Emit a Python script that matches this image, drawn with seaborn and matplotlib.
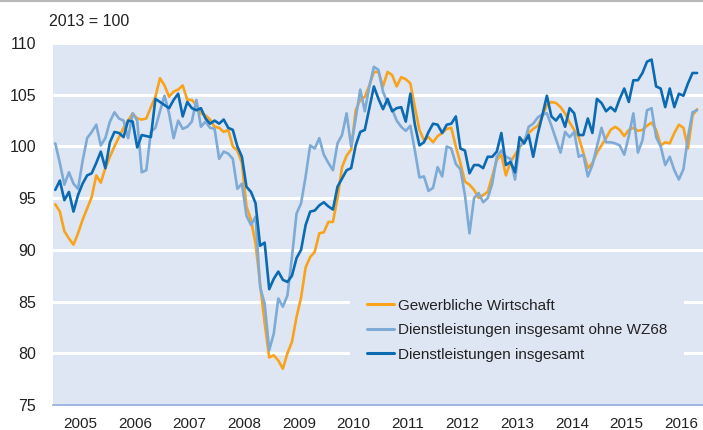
import numpy as np
import pandas as pd
import matplotlib
matplotlib.use('Agg')
import matplotlib.pyplot as plt
import seaborn as sns
from matplotlib.lines import Line2D

# monthly index values, Jan 2005 - Oct 2016 (2013 = 100)
start_year = 2005
gewerbliche = [
    94.4, 93.7, 91.8, 91.1, 90.5, 91.6, 92.9, 94.0, 95.1, 97.2, 96.5, 97.9,
    99.0, 100.0, 100.9, 101.8, 102.5, 103.2, 102.7, 102.6, 102.7, 103.8, 104.8, 106.6,
    105.9, 104.8, 105.3, 105.5, 105.9, 104.5, 104.5, 104.0, 103.2, 103.0, 102.6, 101.9,
    101.8, 101.4, 101.6, 100.0, 99.6, 98.4, 94.2, 92.9, 90.6, 86.7, 82.9, 79.6,
    79.8, 79.3, 78.5, 80.0, 81.1, 83.5, 85.4, 88.3, 89.3, 89.8, 91.6, 91.7,
    92.7, 92.7, 95.0, 98.0, 99.1, 99.7, 103.5, 104.5, 104.8, 105.9, 107.2, 107.2,
    105.8, 107.2, 106.9, 105.8, 106.7, 106.5, 106.1, 103.8, 101.6, 100.6, 100.9, 100.4,
    101.0, 101.3, 101.7, 101.8, 100.0, 98.4, 96.6, 96.3, 95.8, 95.0, 95.3, 95.6,
    97.1, 98.7, 99.2, 97.2, 98.5, 99.2, 99.9, 100.6, 101.3, 101.7, 102.0, 102.9,
    104.0, 104.3, 104.2, 103.8, 103.2, 102.3, 101.6, 100.9, 99.4, 97.9, 98.4, 99.4,
    100.1, 100.8, 101.6, 101.9, 101.6, 101.0, 101.6, 101.8, 101.5, 101.6, 102.0, 102.3,
    101.6, 100.1, 100.4, 100.3, 101.3, 102.1, 101.8, 99.8, 103.0, 103.6,
]
dienst_ohne_wz68 = [
    100.3, 98.4, 96.3, 97.5, 96.4, 95.9, 98.6, 100.8, 101.4, 102.1, 100.1, 100.8,
    102.4, 103.3, 102.7, 102.5, 100.8, 103.2, 102.5, 97.5, 97.7, 101.4, 101.8, 103.4,
    104.9, 103.2, 100.8, 102.5, 101.7, 101.9, 102.4, 104.5, 101.9, 102.4, 101.8, 101.7,
    98.8, 99.5, 99.3, 98.8, 95.9, 96.4, 93.3, 92.4, 93.2, 86.4, 84.8, 80.3,
    81.9, 85.3, 84.5, 85.6, 89.3, 93.5, 94.5, 97.1, 100.1, 99.8, 100.8, 99.2,
    98.4, 97.7, 100.3, 101.1, 103.2, 100.0, 102.7, 105.5, 103.4, 105.8, 107.7, 107.4,
    105.3, 104.2, 103.6, 102.5, 101.9, 101.5, 102.0, 99.6, 97.0, 97.1, 95.7, 96.0,
    98.0, 97.1, 100.0, 99.8, 98.3, 97.8, 95.3, 91.6, 95.0, 95.5, 94.6, 95.0,
    96.4, 99.0, 99.6, 99.0, 98.8, 96.8, 100.1, 100.3, 101.9, 102.2, 102.8, 103.1,
    103.2, 102.0, 100.7, 99.4, 101.4, 100.9, 101.4, 99.0, 99.2, 97.1, 98.2, 100.0,
    101.8, 100.4, 100.4, 100.3, 100.1, 99.2, 101.0, 103.2, 99.4, 100.6, 103.5, 103.7,
    100.9, 100.0, 98.2, 99.0, 97.7, 96.8, 97.8, 100.9, 103.3, 103.5,
]
dienst = [
    95.8, 96.7, 94.8, 95.6, 93.7, 95.3, 96.4, 97.2, 97.4, 98.4, 99.5, 97.9,
    100.4, 101.4, 101.3, 100.9, 102.5, 102.4, 99.9, 101.1, 101.0, 100.9, 104.6, 104.3,
    104.0, 103.7, 104.5, 105.1, 102.9, 104.3, 103.7, 103.5, 103.7, 102.7, 102.2, 102.5,
    102.2, 102.6, 101.8, 101.6, 100.0, 99.0, 96.1, 95.6, 94.5, 90.4, 90.7, 86.2,
    87.2, 87.9, 87.1, 86.9, 87.5, 89.2, 90.0, 92.4, 93.7, 93.8, 94.3, 94.6,
    94.2, 93.9, 96.1, 96.9, 97.7, 97.9, 100.1, 101.4, 101.6, 103.7, 105.8, 104.6,
    103.6, 104.6, 103.4, 103.7, 103.8, 102.4, 105.1, 102.1, 100.1, 100.4, 101.4, 102.2,
    102.1, 101.3, 102.1, 102.2, 102.9, 99.8, 99.6, 97.4, 98.2, 98.2, 97.9, 99.0,
    99.0, 99.5, 101.3, 98.2, 98.5, 97.5, 100.9, 100.3, 101.1, 99.0, 101.2, 103.0,
    104.9, 102.9, 102.5, 103.1, 101.9, 103.7, 103.2, 101.1, 101.1, 102.7, 101.3, 104.6,
    104.2, 103.4, 103.8, 103.4, 104.6, 105.6, 104.3, 106.4, 106.4, 107.1, 108.2, 108.4,
    105.8, 105.6, 103.8, 105.6, 103.8, 105.1, 104.9, 106.1, 107.1, 107.1,
]

series_names = ["Gewerbliche Wirtschaft",
                "Dienstleistungen insgesamt ohne WZ68",
                "Dienstleistungen insgesamt"]
colors = ["#f8a31b", "#7eaad6", "#0a6bb3"]
year_labels = [str(y) for y in range(2005, 2017)]

bg = "#dfe6f3"

# long format for seaborn
n = len(gewerbliche)
x = start_year + (np.arange(n) + 0.5) / 12
frames = []
for name, vals in zip(series_names, [gewerbliche, dienst_ohne_wz68, dienst]):
    frames.append(pd.DataFrame({"year": x, "value": vals, "series": name}))
df = pd.concat(frames, ignore_index=True)

sns.set_style("white", rc={"axes.facecolor": bg})
plt.rcParams['font.family'] = ['Liberation Sans', 'DejaVu Sans']

fig = plt.figure(figsize=(7.03, 4.30), dpi=100)
ax = fig.add_axes([53 / 703, 1 - 405 / 430, 650 / 703, 362 / 430])
ax.set_facecolor(bg)

sns.lineplot(data=df, x="year", y="value", hue="series", hue_order=series_names,
             palette=colors, linewidth=1.9, ax=ax, legend=False)

ax.set_xlim(2005, 2016.9)
ax.set_ylim(75, 110)
ax.set_yticks(range(75, 111, 5))
ax.yaxis.grid(True, color="white", linewidth=2.2)
ax.xaxis.grid(False)
ax.set_axisbelow(True)

ax.set_xticks(range(2005, 2017))
ax.set_xticklabels([])
ax.set_xticks([y + 0.5 for y in range(2005, 2017)], minor=True)
ax.set_xticklabels(year_labels, minor=True)
ax.tick_params(axis="x", which="major", length=5, width=1.2, color="#8eaadb", direction="out")
ax.tick_params(axis="x", which="minor", length=0, pad=9, labelsize=11, labelcolor="#222222")
ax.tick_params(axis="y", length=0, pad=12, labelsize=11.5, labelcolor="#222222")
ax.set_xlabel("")
ax.set_ylabel("")

for side in ["top", "left", "right"]:
    ax.spines[side].set_visible(False)
ax.spines["bottom"].set_color("#8eaadb")
ax.spines["bottom"].set_linewidth(1.2)

handles = [Line2D([0], [0], color=c, lw=2.2) for c in colors]
leg = ax.legend(handles, series_names, loc="upper left", bbox_to_anchor=(0.457, 0.34),
                frameon=True, facecolor=bg, edgecolor="none", framealpha=1,
                fontsize=11, handlelength=1.8, handletextpad=0.25,
                labelspacing=0.68, borderpad=1.1, borderaxespad=0)
for t in leg.get_texts():
    t.set_color("#222222")

fig.text(49 / 703, 1 - 22 / 430, "2013 = 100", fontsize=11.5, color="#222222", va="center")
fig.add_artist(Line2D([0, 1], [0.998, 0.998], color="#b8b8b8", lw=1.5,
                      transform=fig.transFigure))

fig.savefig("out.png", dpi=100)
